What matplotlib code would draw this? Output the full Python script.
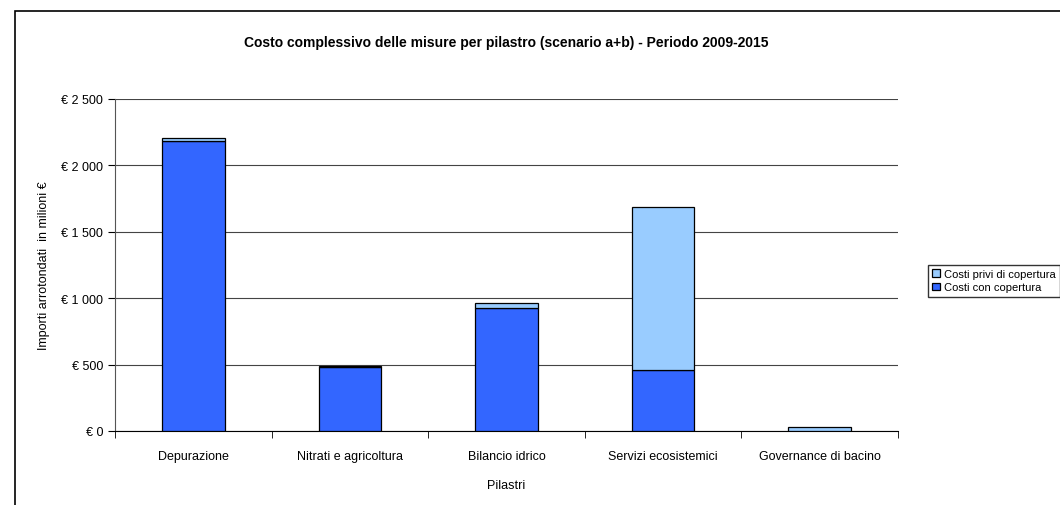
import matplotlib.pyplot as plt
from matplotlib.patches import Rectangle
from matplotlib.ticker import FuncFormatter

plt.rcParams['font.family'] = ['Liberation Sans', 'DejaVu Sans']

pilastri = ['Depurazione', 'Nitrati e agricoltura', 'Bilancio idrico',
            'Servizi ecosistemici', 'Governance di bacino']
con_copertura = [2180, 485, 925, 460, 0]
privi_copertura = [30, 5, 40, 1230, 32]
y_ticks = [0, 500, 1000, 1500, 2000, 2500]


def euro(v, pos):
    s = '{:,.0f}'.format(v).replace(',', ' ')
    return '€ ' + s


fig = plt.figure(figsize=(10.6, 5.06), dpi=100)
fig.patches.append(Rectangle((15 / 1060, -0.1), 1.1, 1 - 12 / 506 + 0.1,
                             transform=fig.transFigure, fill=False,
                             edgecolor='black', linewidth=1.2))
ax = fig.add_axes([115 / 1060, 1 - 432 / 506, 783 / 1060, 332 / 506])

x = range(len(pilastri))
ax.bar(x, con_copertura, width=0.40, color='#3366FF', edgecolor='black',
       linewidth=0.9, label='Costi con copertura', zorder=3)
ax.bar(x, privi_copertura, width=0.40, bottom=con_copertura, color='#99CCFF',
       edgecolor='black', linewidth=0.9, label='Costi privi di copertura', zorder=3)

ax.set_xlim(-0.5, len(pilastri) - 0.5)
ax.set_ylim(0, 2500)
ax.set_yticks(y_ticks)
ax.yaxis.set_major_formatter(FuncFormatter(euro))
ax.set_xticks(list(x))
ax.set_xticklabels(pilastri, fontsize=9)
ax.set_xticks([i - 0.5 for i in range(len(pilastri) + 1)], minor=True)
ax.tick_params(axis='x', which='major', length=0, pad=14)
ax.tick_params(axis='x', which='minor', length=5, direction='out')
ax.tick_params(axis='y', labelsize=9, length=5, direction='out')
ax.grid(axis='y', color='#444444', linewidth=0.8, zorder=0)
ax.spines['top'].set_visible(False)
ax.spines['right'].set_visible(False)
ax.spines['left'].set_color('#555555')

ax.set_title('Costo complessivo delle misure per pilastro (scenario a+b) - Periodo 2009-2015',
             fontsize=10, fontweight='bold', pad=38)
ax.set_ylabel('Importi arrotondati  in milioni €', fontsize=9, labelpad=8)
ax.set_xlabel('Pilastri', fontsize=9, labelpad=12)

handles, labels = ax.get_legend_handles_labels()
leg = fig.legend(handles[::-1], labels[::-1], loc='upper left',
                 bbox_to_anchor=(922 / 1060, 1 - 260 / 506), fontsize=8,
                 frameon=True, fancybox=False, edgecolor='black',
                 handlelength=0.7, handleheight=0.7, handletextpad=0.4,
                 borderpad=0.4, labelspacing=0.3)
leg.get_frame().set_linewidth(1.0)

fig.savefig('out.png', dpi=100)
